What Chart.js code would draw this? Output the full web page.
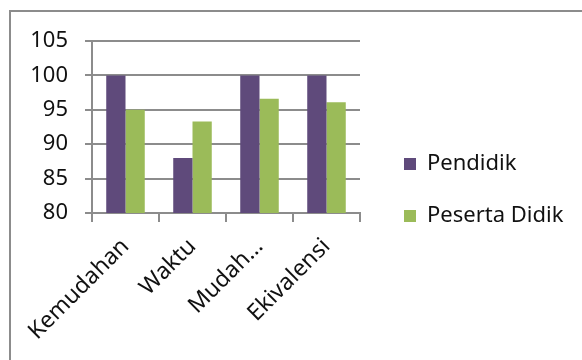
<!DOCTYPE html>
<html>
<head>
<meta charset="utf-8">
<script src="https://cdn.jsdelivr.net/npm/chart.js@4"></script>
<style>
  html, body { margin: 0; padding: 0; background: #fff; overflow: hidden; }
  #wrap { position: relative; width: 582px; height: 360px; }
  #frame {
    position: absolute; left: 9px; top: 10px; width: 620px; height: 400px;
    border: 2px solid #8c8c8c; box-sizing: border-box;
  }
  #chart { position: absolute; left: 0; top: 0; }
</style>
</head>
<body>
<div id="wrap">
  <div id="frame"></div>
  <canvas id="chart" width="582" height="360"></canvas>
</div>
<script>
const categories = ["Kemudahan", "Waktu", "Mudah…", "Ekivalensi"];
const pendidik = [100, 88, 100, 100];
const pesertaDidik = [95, 93.3, 96.6, 96.1];
const yTicks = [80, 85, 90, 95, 100, 105];

const FONT = "'Noto Sans', sans-serif";
const gridGray = "#8c8c8c";
const textColor = "#111";

// mover la leyenda a donde está en la imagen
const legendPlace = {
  id: "legendPlace",
  afterLayout(chart) {
    const lg = chart.legend;
    if (!lg) return;
    const pad = lg.options.labels.padding;
    lg.left = 404 - pad;
    lg.right = 582;
    lg.width = lg.right - lg.left;
    lg.top = 153 - pad;
    lg.bottom = 360;
    lg.height = lg.bottom - lg.top;
  }
};

const ctx = document.getElementById("chart").getContext("2d");
new Chart(ctx, {
  type: "bar",
  data: {
    labels: categories,
    datasets: [
      { label: "Pendidik", data: pendidik, backgroundColor: "#5f4a7b", categoryPercentage: 0.575, barPercentage: 1 },
      { label: "Peserta Didik", data: pesertaDidik, backgroundColor: "#9bbb59", categoryPercentage: 0.575, barPercentage: 1 }
    ]
  },
  options: {
    responsive: false,
    animation: false,
    layout: { padding: { left: 0, top: 41, right: 222, bottom: 0 } },
    plugins: {
      legend: {
        position: "chartArea",
        align: "start",
        labels: {
          boxWidth: 12,
          boxHeight: 12,
          padding: 30,
          color: textColor,
          font: { family: FONT, size: 22 }
        }
      },
      tooltip: { enabled: false }
    },
    scales: {
      x: {
        grid: { display: true, drawOnChartArea: false, drawTicks: true, tickLength: 9, color: gridGray, lineWidth: 2, offset: true },
        border: { display: true, color: gridGray, width: 2 },
        ticks: {
          autoSkip: false, maxRotation: 45, minRotation: 45, padding: 11,
          color: textColor, font: { family: FONT, size: 23 }
        },
        afterFit(scale) { scale.height = 147; }
      },
      y: {
        min: yTicks[0],
        max: yTicks[yTicks.length - 1],
        afterBuildTicks(scale) { scale.ticks = yTicks.map(v => ({ value: v })); },
        grid: { color: gridGray, lineWidth: 2, tickLength: 7 },
        border: { display: true, color: gridGray, width: 2 },
        ticks: { padding: 17, color: textColor, font: { family: FONT, size: 22 } },
        afterFit(scale) { scale.width = 92; }
      }
    }
  },
  plugins: [legendPlace]
});
</script>
</body>
</html>
